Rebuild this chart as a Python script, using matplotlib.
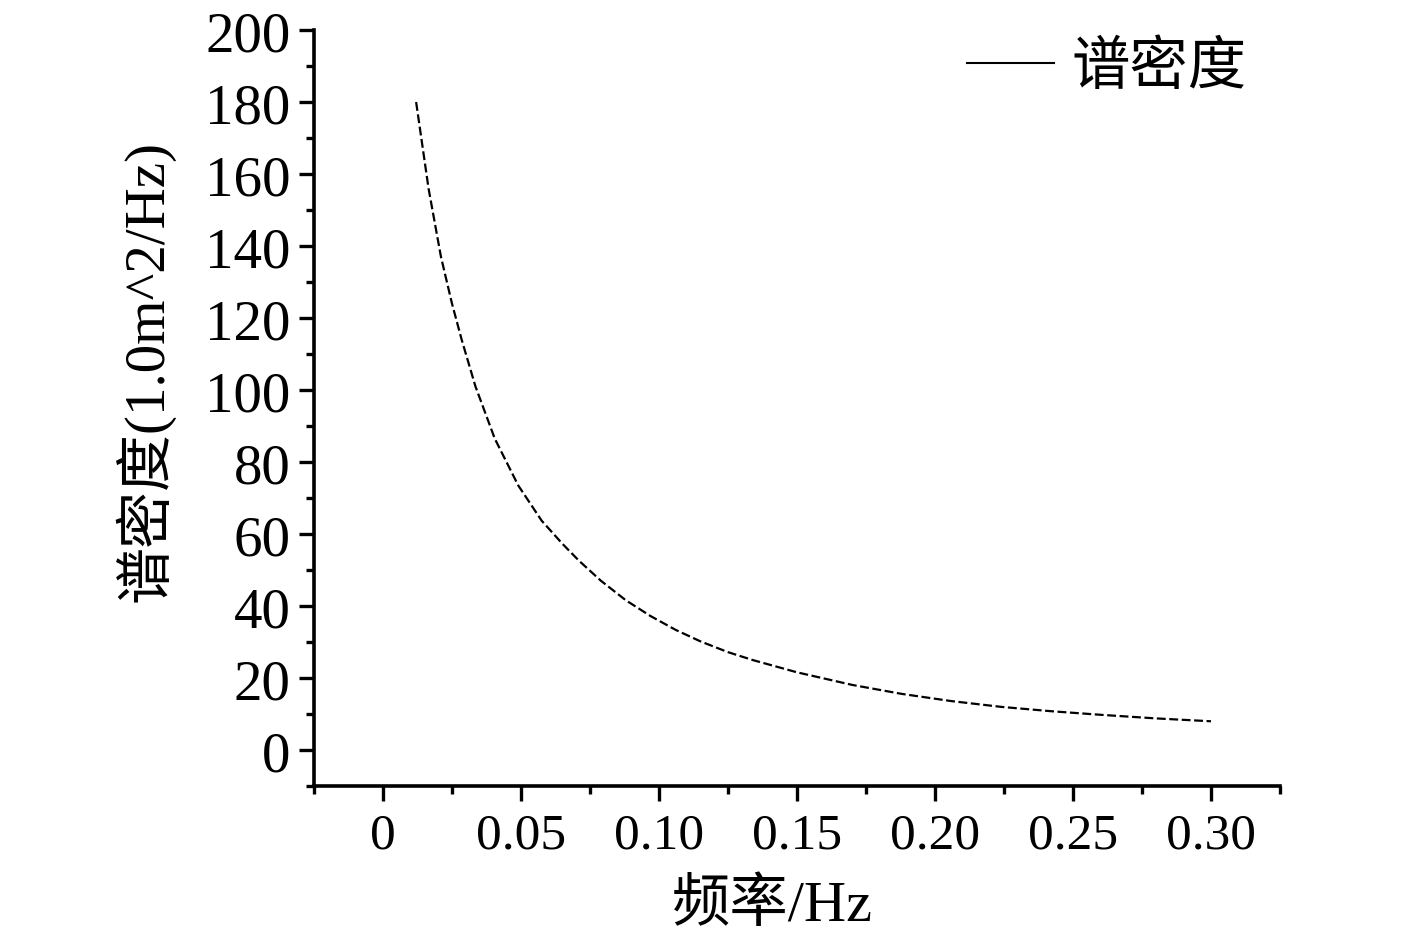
import matplotlib
matplotlib.use('Agg')
import matplotlib.pyplot as plt
from matplotlib.lines import Line2D
from matplotlib.ticker import MultipleLocator, FixedLocator, FixedFormatter

plt.rcParams['font.family'] = ['Liberation Serif', 'Noto Sans CJK SC']

# values
freq = [0.012, 0.0165, 0.021, 0.025, 0.0285, 0.0335, 0.0405, 0.049, 0.0575,
        0.065, 0.071, 0.079, 0.088, 0.097, 0.106, 0.115, 0.125, 0.134,
        0.150, 0.170, 0.188, 0.206, 0.224, 0.242, 0.260, 0.280, 0.300]
density = [180, 156, 137, 124, 114, 101, 86.5, 73.5, 63.7,
           57.3, 52.6, 47.0, 41.6, 37.2, 33.4, 30.2, 27.2, 25.0,
           21.6, 18.1, 15.6, 13.6, 12.0, 10.8, 9.8, 8.8, 8.0]

x_ticks = [0, 0.05, 0.10, 0.15, 0.20, 0.25, 0.30]
x_labels = ['0', '0.05', '0.10', '0.15', '0.20', '0.25', '0.30']
y_ticks = [0, 20, 40, 60, 80, 100, 120, 140, 160, 180, 200]

fig = plt.figure(figsize=(14.17, 9.37), dpi=100)
ax = fig.add_axes([0.2216, 0.160, 0.6817, 0.8069])

ax.plot(freq, density, color='black', lw=1.6, linestyle=(0, (4, 1.6)))

ax.set_xlim(-0.025, 0.325)
ax.set_ylim(-10, 200)

ax.xaxis.set_major_locator(FixedLocator(x_ticks))
ax.xaxis.set_major_formatter(FixedFormatter(x_labels))
ax.xaxis.set_minor_locator(MultipleLocator(0.025))
ax.yaxis.set_major_locator(FixedLocator(y_ticks))
ax.yaxis.set_minor_locator(MultipleLocator(10))

for side in ['top', 'right']:
    ax.spines[side].set_visible(False)
for side in ['left', 'bottom']:
    ax.spines[side].set_linewidth(2.6)

ax.tick_params(which='major', direction='out', length=11, width=2.4)
ax.tick_params(which='minor', direction='out', length=6, width=2.4)
ax.tick_params(axis='y', which='major', labelsize=41, pad=6)
ax.tick_params(axis='x', which='major', labelsize=37, pad=8)

ax.set_xlabel('频率/Hz', fontsize=42)
ax.xaxis.set_label_coords(0.474, -0.121)
ax.set_ylabel('谱密度(1.0m^2/Hz)', fontsize=41)
ax.yaxis.set_label_coords(-0.144, 0.55)

handle = Line2D([], [], color='black', lw=1.5)
ax.legend([handle], ['谱密度'], loc='upper right', frameon=False,
          fontsize=42, handlelength=1.5, handletextpad=0.3,
          bbox_to_anchor=(1.02, 1.055))

fig.savefig('out.png', dpi=100)
